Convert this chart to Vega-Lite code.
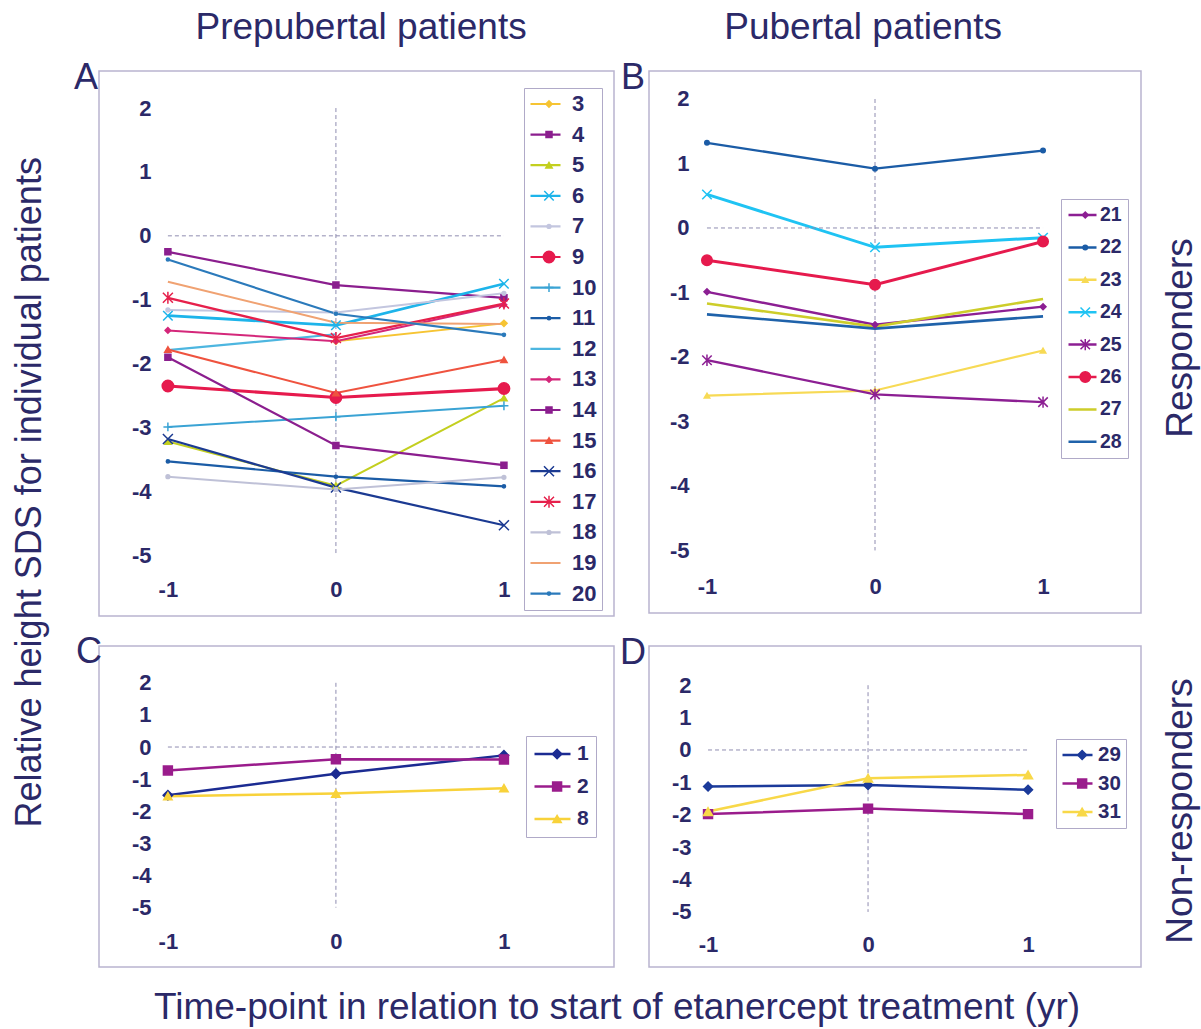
{
  "$schema": "https://vega.github.io/schema/vega-lite/v6.json",
  "background": "white",
  "padding": {"left": 11, "top": 8, "right": 2, "bottom": 2},
  "config": {
    "font": "Liberation Sans",
    "view": {"stroke": "#b9b4cf", "strokeWidth": 1.5},
    "axis": {"domain": false, "ticks": false, "grid": false, "labelPadding": 0, "labelFontSize": 22, "labelFontWeight": "bold", "labelColor": "#2b2968", "labelFont": "Liberation Sans", "labelFlush": false, "labelOverlap": false},
    "text": {"font": "Liberation Sans", "color": "#2b2968", "baseline": "alphabetic", "align": "center"},
    "legend": {"labelFont": "Liberation Sans", "labelFontWeight": "bold", "labelColor": "#2b2968", "title": null}
  },
  "datasets": {
    "A": [
      {"patient": 3, "t": 0, "sds": -1.65}, {"patient": 3, "t": 1, "sds": -1.37},
      {"patient": 4, "t": -1, "sds": -0.25}, {"patient": 4, "t": 0, "sds": -0.77}, {"patient": 4, "t": 1, "sds": -0.97},
      {"patient": 5, "t": -1, "sds": -3.22}, {"patient": 5, "t": 0, "sds": -3.91}, {"patient": 5, "t": 1, "sds": -2.54},
      {"patient": 6, "t": -1, "sds": -1.25}, {"patient": 6, "t": 0, "sds": -1.4}, {"patient": 6, "t": 1, "sds": -0.75},
      {"patient": 7, "t": -1, "sds": -1.16}, {"patient": 7, "t": 0, "sds": -1.2}, {"patient": 7, "t": 1, "sds": -0.9},
      {"patient": 9, "t": -1, "sds": -2.35}, {"patient": 9, "t": 0, "sds": -2.53}, {"patient": 9, "t": 1, "sds": -2.39},
      {"patient": 10, "t": -1, "sds": -2.99}, {"patient": 10, "t": 0, "sds": -2.83}, {"patient": 10, "t": 1, "sds": -2.66},
      {"patient": 11, "t": -1, "sds": -3.53}, {"patient": 11, "t": 0, "sds": -3.77}, {"patient": 11, "t": 1, "sds": -3.92},
      {"patient": 12, "t": -1, "sds": -1.79}, {"patient": 12, "t": 0, "sds": -1.54},
      {"patient": 13, "t": -1, "sds": -1.48}, {"patient": 13, "t": 0, "sds": -1.65}, {"patient": 13, "t": 1, "sds": -1.08},
      {"patient": 14, "t": -1, "sds": -1.9}, {"patient": 14, "t": 0, "sds": -3.28}, {"patient": 14, "t": 1, "sds": -3.59},
      {"patient": 15, "t": -1, "sds": -1.78}, {"patient": 15, "t": 0, "sds": -2.46}, {"patient": 15, "t": 1, "sds": -1.94},
      {"patient": 16, "t": -1, "sds": -3.18}, {"patient": 16, "t": 0, "sds": -3.94}, {"patient": 16, "t": 1, "sds": -4.53},
      {"patient": 17, "t": -1, "sds": -0.97}, {"patient": 17, "t": 0, "sds": -1.6}, {"patient": 17, "t": 1, "sds": -1.06},
      {"patient": 18, "t": -1, "sds": -3.77}, {"patient": 18, "t": 0, "sds": -3.97}, {"patient": 18, "t": 1, "sds": -3.78},
      {"patient": 19, "t": -1, "sds": -0.72}, {"patient": 19, "t": 0, "sds": -1.36}, {"patient": 19, "t": 1, "sds": -1.38},
      {"patient": 20, "t": -1, "sds": -0.37}, {"patient": 20, "t": 0, "sds": -1.22}, {"patient": 20, "t": 1, "sds": -1.55}
    ],
    "B": [
      {"patient": 21, "t": -1, "sds": -0.99}, {"patient": 21, "t": 0, "sds": -1.5}, {"patient": 21, "t": 1, "sds": -1.22},
      {"patient": 22, "t": -1, "sds": 1.32}, {"patient": 22, "t": 0, "sds": 0.92}, {"patient": 22, "t": 1, "sds": 1.2},
      {"patient": 23, "t": -1, "sds": -2.6}, {"patient": 23, "t": 0, "sds": -2.52}, {"patient": 23, "t": 1, "sds": -1.9},
      {"patient": 24, "t": -1, "sds": 0.52}, {"patient": 24, "t": 0, "sds": -0.3}, {"patient": 24, "t": 1, "sds": -0.15},
      {"patient": 25, "t": -1, "sds": -2.05}, {"patient": 25, "t": 0, "sds": -2.58}, {"patient": 25, "t": 1, "sds": -2.7},
      {"patient": 26, "t": -1, "sds": -0.5}, {"patient": 26, "t": 0, "sds": -0.88}, {"patient": 26, "t": 1, "sds": -0.21},
      {"patient": 27, "t": -1, "sds": -1.17}, {"patient": 27, "t": 0, "sds": -1.53}, {"patient": 27, "t": 1, "sds": -1.1},
      {"patient": 28, "t": -1, "sds": -1.34}, {"patient": 28, "t": 0, "sds": -1.56}, {"patient": 28, "t": 1, "sds": -1.37}
    ],
    "C": [
      {"patient": 1, "t": -1, "sds": -1.5}, {"patient": 1, "t": 0, "sds": -0.83}, {"patient": 1, "t": 1, "sds": -0.26},
      {"patient": 2, "t": -1, "sds": -0.73}, {"patient": 2, "t": 0, "sds": -0.38}, {"patient": 2, "t": 1, "sds": -0.39},
      {"patient": 8, "t": -1, "sds": -1.53}, {"patient": 8, "t": 0, "sds": -1.45}, {"patient": 8, "t": 1, "sds": -1.28}
    ],
    "D": [
      {"patient": 29, "t": -1, "sds": -1.13}, {"patient": 29, "t": 0, "sds": -1.08}, {"patient": 29, "t": 1, "sds": -1.23},
      {"patient": 30, "t": -1, "sds": -1.98}, {"patient": 30, "t": 0, "sds": -1.81}, {"patient": 30, "t": 1, "sds": -1.98},
      {"patient": 31, "t": -1, "sds": -1.9}, {"patient": 31, "t": 0, "sds": -0.87}, {"patient": 31, "t": 1, "sds": -0.77}
    ],
    "one": [{"k": 1}]
  },
  "bounds": "flush",
  "spacing": 575,
  "resolve": {
    "scale": {"color": "independent", "fill": "independent", "stroke": "independent", "shape": "independent", "size": "independent", "strokeWidth": "independent"},
    "legend": {"color": "independent", "fill": "independent", "stroke": "independent", "shape": "independent", "size": "independent"}
  },
  "vconcat": [
    {
      "bounds": "flush",
      "spacing": 35,
      "resolve": {
        "scale": {"color": "independent", "fill": "independent", "stroke": "independent", "shape": "independent", "size": "independent", "strokeWidth": "independent"},
        "legend": {"color": "independent", "fill": "independent", "stroke": "independent", "shape": "independent", "size": "independent"}
      },
      "hconcat": [
        {
          "width": 515, "height": 545,
          "layer": [
            {"data": {"name": "A"}, "mark": {"type": "line"},
             "encoding": {
               "x": {"field": "t", "type": "quantitative", "scale": {"domain": [-1.41, 1.655], "nice": false, "zero": false}, "axis": {"values": [-1, 0, 1], "labelExpr": "replace(datum.label, '−', '-')", "offset": -37, "title": null}},
               "y": {"field": "sds", "type": "quantitative", "scale": {"domain": [-5.95, 2.58], "nice": false, "zero": false}, "axis": {"values": [-5, -4, -3, -2, -1, 0, 1, 2], "labelExpr": "replace(datum.label, '−', '-')", "offset": -52, "title": null}},
               "color": {"field": "patient", "type": "nominal",
                 "scale": {"range": ["#f6c433", "#8b1e8e", "#c3cf1f", "#1db4ea", "#c3c6df", "#e61a4d", "#3aa3d4", "#1b5ca6", "#4db6e0", "#d4277a", "#8b1e8e", "#ef533f", "#1b3a92", "#e6204b", "#bfc1d7", "#f0a272", "#2b7abb"]},
                 "legend": {"orient": "none", "legendX": 425, "legendY": 17, "symbolType": "stroke", "symbolSize": 900, "symbolStrokeWidth": 2.2, "clipHeight": 22, "labelFontSize": 22, "labelOffset": 10, "padding": 5, "rowPadding": 8.6, "strokeColor": "#b0aac8"}},
               "strokeWidth": {"field": "patient", "type": "nominal",
                 "scale": {"type": "ordinal", "domain": [20, 19, 18, 17, 16, 15, 14, 13, 12, 11, 10, 9, 7, 6, 5, 4, 3], "range": [2.2, 2, 2, 2.4, 2.2, 2, 2.2, 2, 2.2, 2.2, 2, 3.2, 2, 2.8, 2, 2.2, 2]},
                 "legend": null}
             }},
            {"data": {"name": "one"}, "mark": {"type": "rule", "color": "#8f8cb0", "strokeDash": [4, 3], "strokeWidth": 1},
             "encoding": {"x": {"datum": -1, "type": "quantitative", "scale": {"domain": [-1.41, 1.655], "nice": false, "zero": false}, "axis": {"values": [-1, 0, 1], "labelExpr": "replace(datum.label, '−', '-')", "offset": -37, "title": null}},
                          "x2": {"datum": 1},
                          "y": {"datum": 0, "type": "quantitative", "scale": {"domain": [-5.95, 2.58], "nice": false, "zero": false}, "axis": {"values": [-5, -4, -3, -2, -1, 0, 1, 2], "labelExpr": "replace(datum.label, '−', '-')", "offset": -52, "title": null}}}},
            {"data": {"name": "one"}, "mark": {"type": "rule", "color": "#8f8cb0", "strokeDash": [4, 3], "strokeWidth": 1},
             "encoding": {"x": {"datum": 0, "type": "quantitative", "scale": {"domain": [-1.41, 1.655], "nice": false, "zero": false}, "axis": {"values": [-1, 0, 1], "labelExpr": "replace(datum.label, '−', '-')", "offset": -37, "title": null}},
                          "y": {"datum": 2, "type": "quantitative", "scale": {"domain": [-5.95, 2.58], "nice": false, "zero": false}, "axis": {"values": [-5, -4, -3, -2, -1, 0, 1, 2], "labelExpr": "replace(datum.label, '−', '-')", "offset": -52, "title": null}},
                          "y2": {"datum": -5}}},
            {"data": {"values": [{"label": "A"}]}, "mark": {"type": "text", "fontSize": 36},
             "encoding": {"x": {"datum": -1.487, "type": "quantitative", "scale": {"domain": [-1.41, 1.655], "nice": false, "zero": false}, "axis": {"values": [-1, 0, 1], "labelExpr": "replace(datum.label, '−', '-')", "offset": -37, "title": null}},
                          "y": {"datum": 2.299, "type": "quantitative", "scale": {"domain": [-5.95, 2.58], "nice": false, "zero": false}, "axis": {"values": [-5, -4, -3, -2, -1, 0, 1, 2], "labelExpr": "replace(datum.label, '−', '-')", "offset": -52, "title": null}},
                          "text": {"field": "label"}}},
            {"data": {"values": [{"label": "Prepubertal patients"}]}, "mark": {"type": "text", "fontSize": 37},
             "encoding": {"x": {"datum": 0.15, "type": "quantitative", "scale": {"domain": [-1.41, 1.655], "nice": false, "zero": false}, "axis": {"values": [-1, 0, 1], "labelExpr": "replace(datum.label, '−', '-')", "offset": -37, "title": null}},
                          "y": {"datum": 3.08, "type": "quantitative", "scale": {"domain": [-5.95, 2.58], "nice": false, "zero": false}, "axis": {"values": [-5, -4, -3, -2, -1, 0, 1, 2], "labelExpr": "replace(datum.label, '−', '-')", "offset": -52, "title": null}},
                          "text": {"field": "label"}}},
            {"data": {"values": [{"label": "Relative height SDS for individual patients"}]}, "mark": {"type": "text", "fontSize": 36, "angle": 270},
             "encoding": {"x": {"datum": -1.755, "type": "quantitative", "scale": {"domain": [-1.41, 1.655], "nice": false, "zero": false}, "axis": {"values": [-1, 0, 1], "labelExpr": "replace(datum.label, '−', '-')", "offset": -37, "title": null}},
                          "y": {"datum": -4.014, "type": "quantitative", "scale": {"domain": [-5.95, 2.58], "nice": false, "zero": false}, "axis": {"values": [-5, -4, -3, -2, -1, 0, 1, 2], "labelExpr": "replace(datum.label, '−', '-')", "offset": -52, "title": null}},
                          "text": {"field": "label"}}},
            {"data": {"name": "A"}, "mark": {"type": "point", "filled": true, "strokeWidth": 1.5, "opacity": 1},
             "encoding": {
               "x": {"field": "t", "type": "quantitative", "scale": {"domain": [-1.41, 1.655], "nice": false, "zero": false}, "axis": {"values": [-1, 0, 1], "labelExpr": "replace(datum.label, '−', '-')", "offset": -37, "title": null}},
               "y": {"field": "sds", "type": "quantitative", "scale": {"domain": [-5.95, 2.58], "nice": false, "zero": false}, "axis": {"values": [-5, -4, -3, -2, -1, 0, 1, 2], "labelExpr": "replace(datum.label, '−', '-')", "offset": -52, "title": null}},
               "fill": {"field": "patient", "type": "nominal",
                 "scale": {"domain": [3, 4, 5, 6, 7, 9, 10, 11, 12, 13, 14, 15, 16, 17, 18, 19, 20], "range": ["#f6c433", "#8b1e8e", "#c3cf1f", "#1db4ea", "#c3c6df", "#e61a4d", "#3aa3d4", "#1b5ca6", "#4db6e0", "#d4277a", "#8b1e8e", "#ef533f", "#1b3a92", "#e6204b", "#bfc1d7", "#f0a272", "#2b7abb"]},
                 "legend": {"orient": "none", "legendX": 425, "legendY": 17, "clipHeight": 22, "labelFontSize": 22, "labelOpacity": 0, "labelExpr": "''", "labelOffset": 10, "padding": 5, "rowPadding": 8.6, "symbolOffset": 9, "symbolStrokeWidth": 1.5}},
               "stroke": {"field": "patient", "type": "nominal",
                 "scale": {"domain": [3, 4, 5, 6, 7, 9, 10, 11, 12, 13, 14, 15, 16, 17, 18, 19, 20], "range": ["#f6c433", "#8b1e8e", "#c3cf1f", "#1db4ea", "#c3c6df", "#e61a4d", "#3aa3d4", "#1b5ca6", "#4db6e0", "#d4277a", "#8b1e8e", "#ef533f", "#1b3a92", "#e6204b", "#bfc1d7", "#f0a272", "#2b7abb"]},
                 "legend": {"orient": "none", "legendX": 425, "legendY": 17, "clipHeight": 22, "labelFontSize": 22, "labelOpacity": 0, "labelExpr": "''", "labelOffset": 10, "padding": 5, "rowPadding": 8.6, "symbolOffset": 9, "symbolStrokeWidth": 1.5}},
               "shape": {"field": "patient", "type": "nominal",
                 "scale": {"domain": [3, 4, 5, 6, 7, 9, 10, 11, 12, 13, 14, 15, 16, 17, 18, 19, 20], "range": ["diamond", "square", "triangle-up", "M-1,-1L1,1M-1,1L1,-1", "circle", "circle", "M0,-1V1M-1,0H1", "circle", "circle", "diamond", "square", "triangle-up", "M-1,-1L1,1M-1,1L1,-1", "M-1,-1L1,1M-1,1L1,-1M0,-1.2V1.2", "circle", "circle", "circle"]},
                 "legend": {"orient": "none", "legendX": 425, "legendY": 17, "clipHeight": 22, "labelFontSize": 22, "labelOpacity": 0, "labelExpr": "''", "labelOffset": 10, "padding": 5, "rowPadding": 8.6, "symbolOffset": 9, "symbolStrokeWidth": 1.5}},
               "size": {"field": "patient", "type": "nominal",
                 "scale": {"type": "ordinal", "domain": [3, 4, 5, 6, 7, 9, 10, 11, 12, 13, 14, 15, 16, 17, 18, 19, 20], "range": [40, 36, 40, 90, 14, 130, 80, 10, 0, 30, 36, 40, 100, 100, 14, 0, 10]},
                 "legend": {"orient": "none", "legendX": 425, "legendY": 17, "clipHeight": 22, "labelFontSize": 22, "labelOpacity": 0, "labelExpr": "''", "labelOffset": 10, "padding": 5, "rowPadding": 8.6, "symbolOffset": 9, "symbolStrokeWidth": 1.5}}
             }}
          ]
        },
        {
          "width": 492, "height": 542,
          "layer": [
            {"data": {"name": "B"}, "mark": {"type": "line"},
             "encoding": {
               "x": {"field": "t", "type": "quantitative", "scale": {"domain": [-1.345, 1.583], "nice": false, "zero": false}, "axis": {"values": [-1, 0, 1], "labelExpr": "replace(datum.label, '−', '-')", "offset": -37, "title": null}},
               "y": {"field": "sds", "type": "quantitative", "scale": {"domain": [-5.97, 2.434], "nice": false, "zero": false}, "axis": {"values": [-5, -4, -3, -2, -1, 0, 1, 2], "labelExpr": "replace(datum.label, '−', '-')", "offset": -40, "title": null}},
               "color": {"field": "patient", "type": "nominal",
                 "scale": {"range": ["#8c1f93", "#1b5ca6", "#f7da55", "#1fc3f3", "#8c1f93", "#e61a4d", "#cdcd2a", "#1f62aa"]},
                 "legend": {"orient": "none", "legendX": 412, "legendY": 128, "symbolType": "stroke", "symbolSize": 784, "symbolStrokeWidth": 2.5, "clipHeight": 20, "labelFontSize": 19.5, "labelOffset": 2, "padding": 6, "rowPadding": 12.4, "strokeColor": "#b0aac8"}},
               "strokeWidth": {"field": "patient", "type": "nominal",
                 "scale": {"type": "ordinal", "domain": [28, 27, 26, 25, 24, 23, 22, 21], "range": [2.6, 2.6, 3, 2.4, 3, 2.2, 2.4, 2.4]},
                 "legend": null}
             }},
            {"data": {"name": "one"}, "mark": {"type": "rule", "color": "#8f8cb0", "strokeDash": [4, 3], "strokeWidth": 1},
             "encoding": {"x": {"datum": -1, "type": "quantitative", "scale": {"domain": [-1.345, 1.583], "nice": false, "zero": false}, "axis": {"values": [-1, 0, 1], "labelExpr": "replace(datum.label, '−', '-')", "offset": -37, "title": null}},
                          "x2": {"datum": 1},
                          "y": {"datum": 0, "type": "quantitative", "scale": {"domain": [-5.97, 2.434], "nice": false, "zero": false}, "axis": {"values": [-5, -4, -3, -2, -1, 0, 1, 2], "labelExpr": "replace(datum.label, '−', '-')", "offset": -40, "title": null}}}},
            {"data": {"name": "one"}, "mark": {"type": "rule", "color": "#8f8cb0", "strokeDash": [4, 3], "strokeWidth": 1},
             "encoding": {"x": {"datum": 0, "type": "quantitative", "scale": {"domain": [-1.345, 1.583], "nice": false, "zero": false}, "axis": {"values": [-1, 0, 1], "labelExpr": "replace(datum.label, '−', '-')", "offset": -37, "title": null}},
                          "y": {"datum": 2, "type": "quantitative", "scale": {"domain": [-5.97, 2.434], "nice": false, "zero": false}, "axis": {"values": [-5, -4, -3, -2, -1, 0, 1, 2], "labelExpr": "replace(datum.label, '−', '-')", "offset": -40, "title": null}},
                          "y2": {"datum": -5}}},
            {"data": {"values": [{"label": "B"}]}, "mark": {"type": "text", "fontSize": 36},
             "encoding": {"x": {"datum": -1.44, "type": "quantitative", "scale": {"domain": [-1.345, 1.583], "nice": false, "zero": false}, "axis": {"values": [-1, 0, 1], "labelExpr": "replace(datum.label, '−', '-')", "offset": -37, "title": null}},
                          "y": {"datum": 2.155, "type": "quantitative", "scale": {"domain": [-5.97, 2.434], "nice": false, "zero": false}, "axis": {"values": [-5, -4, -3, -2, -1, 0, 1, 2], "labelExpr": "replace(datum.label, '−', '-')", "offset": -40, "title": null}},
                          "text": {"field": "label"}}},
            {"data": {"values": [{"label": "Pubertal patients"}]}, "mark": {"type": "text", "fontSize": 37},
             "encoding": {"x": {"datum": -0.071, "type": "quantitative", "scale": {"domain": [-1.345, 1.583], "nice": false, "zero": false}, "axis": {"values": [-1, 0, 1], "labelExpr": "replace(datum.label, '−', '-')", "offset": -37, "title": null}},
                          "y": {"datum": 2.93, "type": "quantitative", "scale": {"domain": [-5.97, 2.434], "nice": false, "zero": false}, "axis": {"values": [-5, -4, -3, -2, -1, 0, 1, 2], "labelExpr": "replace(datum.label, '−', '-')", "offset": -40, "title": null}},
                          "text": {"field": "label"}}},
            {"data": {"values": [{"label": "Responders"}]}, "mark": {"type": "text", "fontSize": 37, "angle": 270},
             "encoding": {"x": {"datum": 1.887, "type": "quantitative", "scale": {"domain": [-1.345, 1.583], "nice": false, "zero": false}, "axis": {"values": [-1, 0, 1], "labelExpr": "replace(datum.label, '−', '-')", "offset": -37, "title": null}},
                          "y": {"datum": -1.706, "type": "quantitative", "scale": {"domain": [-5.97, 2.434], "nice": false, "zero": false}, "axis": {"values": [-5, -4, -3, -2, -1, 0, 1, 2], "labelExpr": "replace(datum.label, '−', '-')", "offset": -40, "title": null}},
                          "text": {"field": "label"}}},
            {"data": {"name": "B"}, "mark": {"type": "point", "filled": true, "strokeWidth": 1.5, "opacity": 1},
             "encoding": {
               "x": {"field": "t", "type": "quantitative", "scale": {"domain": [-1.345, 1.583], "nice": false, "zero": false}, "axis": {"values": [-1, 0, 1], "labelExpr": "replace(datum.label, '−', '-')", "offset": -37, "title": null}},
               "y": {"field": "sds", "type": "quantitative", "scale": {"domain": [-5.97, 2.434], "nice": false, "zero": false}, "axis": {"values": [-5, -4, -3, -2, -1, 0, 1, 2], "labelExpr": "replace(datum.label, '−', '-')", "offset": -40, "title": null}},
               "fill": {"field": "patient", "type": "nominal",
                 "scale": {"domain": [21, 22, 23, 24, 25, 26, 27, 28], "range": ["#8c1f93", "#1b5ca6", "#f7da55", "#1fc3f3", "#8c1f93", "#e61a4d", "#cdcd2a", "#1f62aa"]},
                 "legend": {"orient": "none", "legendX": 412, "legendY": 128, "clipHeight": 20, "labelFontSize": 19.5, "labelOpacity": 0, "labelExpr": "''", "labelOffset": 2, "padding": 6, "rowPadding": 12.4, "symbolOffset": 8.5, "symbolStrokeWidth": 1.5}},
               "stroke": {"field": "patient", "type": "nominal",
                 "scale": {"domain": [21, 22, 23, 24, 25, 26, 27, 28], "range": ["#8c1f93", "#1b5ca6", "#f7da55", "#1fc3f3", "#8c1f93", "#e61a4d", "#cdcd2a", "#1f62aa"]},
                 "legend": {"orient": "none", "legendX": 412, "legendY": 128, "clipHeight": 20, "labelFontSize": 19.5, "labelOpacity": 0, "labelExpr": "''", "labelOffset": 2, "padding": 6, "rowPadding": 12.4, "symbolOffset": 8.5, "symbolStrokeWidth": 1.5}},
               "shape": {"field": "patient", "type": "nominal",
                 "scale": {"domain": [21, 22, 23, 24, 25, 26, 27, 28], "range": ["diamond", "circle", "triangle-up", "M-1,-1L1,1M-1,1L1,-1", "M-1,-1L1,1M-1,1L1,-1M0,-1.2V1.2", "circle", "circle", "circle"]},
                 "legend": {"orient": "none", "legendX": 412, "legendY": 128, "clipHeight": 20, "labelFontSize": 19.5, "labelOpacity": 0, "labelExpr": "''", "labelOffset": 2, "padding": 6, "rowPadding": 12.4, "symbolOffset": 8.5, "symbolStrokeWidth": 1.5}},
               "size": {"field": "patient", "type": "nominal",
                 "scale": {"type": "ordinal", "domain": [21, 22, 23, 24, 25, 26, 27, 28], "range": [35, 20, 30, 90, 90, 110, 0, 0]},
                 "legend": {"orient": "none", "legendX": 412, "legendY": 128, "clipHeight": 20, "labelFontSize": 19.5, "labelOpacity": 0, "labelExpr": "''", "labelOffset": 2, "padding": 6, "rowPadding": 12.4, "symbolOffset": 8.5, "symbolStrokeWidth": 1.5}}
             }}
          ]
        }
      ]
    },
    {
      "bounds": "flush",
      "spacing": 35,
      "resolve": {
        "scale": {"color": "independent", "fill": "independent", "stroke": "independent", "shape": "independent", "size": "independent", "strokeWidth": "independent"},
        "legend": {"color": "independent", "fill": "independent", "stroke": "independent", "shape": "independent", "size": "independent"}
      },
      "hconcat": [
        {
          "width": 515, "height": 321,
          "layer": [
            {"data": {"name": "C"}, "mark": {"type": "line", "strokeWidth": 2.5},
             "encoding": {
               "x": {"field": "t", "type": "quantitative", "scale": {"domain": [-1.41, 1.655], "nice": false, "zero": false}, "axis": {"values": [-1, 0, 1], "labelExpr": "replace(datum.label, '−', '-')", "offset": -36, "title": null}},
               "y": {"field": "sds", "type": "quantitative", "scale": {"domain": [-6.85, 3.146], "nice": false, "zero": false}, "axis": {"values": [-5, -4, -3, -2, -1, 0, 1, 2], "labelExpr": "replace(datum.label, '−', '-')", "offset": -52, "title": null}},
               "color": {"field": "patient", "type": "nominal",
                 "scale": {"range": ["#1b2b92", "#9a1c8c", "#f8d23a"]},
                 "legend": {"orient": "none", "legendX": 427, "legendY": 90, "symbolType": "stroke", "symbolSize": 1296, "symbolStrokeWidth": 2.5, "clipHeight": 22, "labelFontSize": 21, "labelOffset": 5, "padding": 7, "rowPadding": 10.5, "strokeColor": "#b0aac8"}}
             }},
            {"data": {"name": "one"}, "mark": {"type": "rule", "color": "#8f8cb0", "strokeDash": [4, 3], "strokeWidth": 1},
             "encoding": {"x": {"datum": -1, "type": "quantitative", "scale": {"domain": [-1.41, 1.655], "nice": false, "zero": false}, "axis": {"values": [-1, 0, 1], "labelExpr": "replace(datum.label, '−', '-')", "offset": -36, "title": null}},
                          "x2": {"datum": 1},
                          "y": {"datum": 0, "type": "quantitative", "scale": {"domain": [-6.85, 3.146], "nice": false, "zero": false}, "axis": {"values": [-5, -4, -3, -2, -1, 0, 1, 2], "labelExpr": "replace(datum.label, '−', '-')", "offset": -52, "title": null}}}},
            {"data": {"name": "one"}, "mark": {"type": "rule", "color": "#8f8cb0", "strokeDash": [4, 3], "strokeWidth": 1},
             "encoding": {"x": {"datum": 0, "type": "quantitative", "scale": {"domain": [-1.41, 1.655], "nice": false, "zero": false}, "axis": {"values": [-1, 0, 1], "labelExpr": "replace(datum.label, '−', '-')", "offset": -36, "title": null}},
                          "y": {"datum": 2, "type": "quantitative", "scale": {"domain": [-6.85, 3.146], "nice": false, "zero": false}, "axis": {"values": [-5, -4, -3, -2, -1, 0, 1, 2], "labelExpr": "replace(datum.label, '−', '-')", "offset": -52, "title": null}},
                          "y2": {"datum": -5}}},
            {"data": {"values": [{"label": "C"}]}, "mark": {"type": "text", "fontSize": 36},
             "encoding": {"x": {"datum": -1.47, "type": "quantitative", "scale": {"domain": [-1.41, 1.655], "nice": false, "zero": false}, "axis": {"values": [-1, 0, 1], "labelExpr": "replace(datum.label, '−', '-')", "offset": -36, "title": null}},
                          "y": {"datum": 2.616, "type": "quantitative", "scale": {"domain": [-6.85, 3.146], "nice": false, "zero": false}, "axis": {"values": [-5, -4, -3, -2, -1, 0, 1, 2], "labelExpr": "replace(datum.label, '−', '-')", "offset": -52, "title": null}},
                          "text": {"field": "label"}}},
            {"data": {"values": [{"label": "Time-point in relation to start of etanercept treatment (yr)"}]}, "mark": {"type": "text", "fontSize": 37},
             "encoding": {"x": {"datum": 1.673, "type": "quantitative", "scale": {"domain": [-1.41, 1.655], "nice": false, "zero": false}, "axis": {"values": [-1, 0, 1], "labelExpr": "replace(datum.label, '−', '-')", "offset": -36, "title": null}},
                          "y": {"datum": -8.474, "type": "quantitative", "scale": {"domain": [-6.85, 3.146], "nice": false, "zero": false}, "axis": {"values": [-5, -4, -3, -2, -1, 0, 1, 2], "labelExpr": "replace(datum.label, '−', '-')", "offset": -52, "title": null}},
                          "text": {"field": "label"}}},
            {"data": {"name": "C"}, "mark": {"type": "point", "filled": true, "strokeWidth": 1.5, "opacity": 1},
             "encoding": {
               "x": {"field": "t", "type": "quantitative", "scale": {"domain": [-1.41, 1.655], "nice": false, "zero": false}, "axis": {"values": [-1, 0, 1], "labelExpr": "replace(datum.label, '−', '-')", "offset": -36, "title": null}},
               "y": {"field": "sds", "type": "quantitative", "scale": {"domain": [-6.85, 3.146], "nice": false, "zero": false}, "axis": {"values": [-5, -4, -3, -2, -1, 0, 1, 2], "labelExpr": "replace(datum.label, '−', '-')", "offset": -52, "title": null}},
               "fill": {"field": "patient", "type": "nominal",
                 "scale": {"domain": [1, 2, 8], "range": ["#1b2b92", "#9a1c8c", "#f8d23a"]},
                 "legend": {"orient": "none", "legendX": 427, "legendY": 90, "clipHeight": 22, "labelFontSize": 21, "labelOpacity": 0, "labelExpr": "''", "labelOffset": 5, "padding": 7, "rowPadding": 10.5, "symbolOffset": 13.6, "symbolStrokeWidth": 1.5}},
               "stroke": {"field": "patient", "type": "nominal",
                 "scale": {"domain": [1, 2, 8], "range": ["#1b2b92", "#9a1c8c", "#f8d23a"]},
                 "legend": {"orient": "none", "legendX": 427, "legendY": 90, "clipHeight": 22, "labelFontSize": 21, "labelOpacity": 0, "labelExpr": "''", "labelOffset": 5, "padding": 7, "rowPadding": 10.5, "symbolOffset": 13.6, "symbolStrokeWidth": 1.5}},
               "shape": {"field": "patient", "type": "nominal",
                 "scale": {"domain": [1, 2, 8], "range": ["diamond", "square", "triangle-up"]},
                 "legend": {"orient": "none", "legendX": 427, "legendY": 90, "clipHeight": 22, "labelFontSize": 21, "labelOpacity": 0, "labelExpr": "''", "labelOffset": 5, "padding": 7, "rowPadding": 10.5, "symbolOffset": 13.6, "symbolStrokeWidth": 1.5}},
               "size": {"field": "patient", "type": "nominal",
                 "scale": {"type": "ordinal", "domain": [1, 2, 8], "range": [90, 80, 70]},
                 "legend": {"orient": "none", "legendX": 427, "legendY": 90, "clipHeight": 22, "labelFontSize": 21, "labelOpacity": 0, "labelExpr": "''", "labelOffset": 5, "padding": 7, "rowPadding": 10.5, "symbolOffset": 13.6, "symbolStrokeWidth": 1.5}}
             }}
          ]
        },
        {
          "width": 492, "height": 321,
          "layer": [
            {"data": {"name": "D"}, "mark": {"type": "line", "strokeWidth": 2.5},
             "encoding": {
               "x": {"field": "t", "type": "quantitative", "scale": {"domain": [-1.369, 1.706], "nice": false, "zero": false}, "axis": {"values": [-1, 0, 1], "labelExpr": "replace(datum.label, '−', '-')", "offset": -33, "title": null}},
               "y": {"field": "sds", "type": "quantitative", "scale": {"domain": [-6.7, 3.21], "nice": false, "zero": false}, "axis": {"values": [-5, -4, -3, -2, -1, 0, 1, 2], "labelExpr": "replace(datum.label, '−', '-')", "offset": -42, "title": null}},
               "color": {"field": "patient", "type": "nominal",
                 "scale": {"range": ["#1b3a9a", "#9a1c8c", "#f8d848"]},
                 "legend": {"orient": "none", "legendX": 407, "legendY": 93, "symbolType": "stroke", "symbolSize": 900, "symbolStrokeWidth": 2.5, "clipHeight": 22, "labelFontSize": 20.5, "labelOffset": 4, "padding": 5, "rowPadding": 6.5, "strokeColor": "#b0aac8"}}
             }},
            {"data": {"name": "one"}, "mark": {"type": "rule", "color": "#8f8cb0", "strokeDash": [4, 3], "strokeWidth": 1},
             "encoding": {"x": {"datum": -1, "type": "quantitative", "scale": {"domain": [-1.369, 1.706], "nice": false, "zero": false}, "axis": {"values": [-1, 0, 1], "labelExpr": "replace(datum.label, '−', '-')", "offset": -33, "title": null}},
                          "x2": {"datum": 1},
                          "y": {"datum": 0, "type": "quantitative", "scale": {"domain": [-6.7, 3.21], "nice": false, "zero": false}, "axis": {"values": [-5, -4, -3, -2, -1, 0, 1, 2], "labelExpr": "replace(datum.label, '−', '-')", "offset": -42, "title": null}}}},
            {"data": {"name": "one"}, "mark": {"type": "rule", "color": "#8f8cb0", "strokeDash": [4, 3], "strokeWidth": 1},
             "encoding": {"x": {"datum": 0, "type": "quantitative", "scale": {"domain": [-1.369, 1.706], "nice": false, "zero": false}, "axis": {"values": [-1, 0, 1], "labelExpr": "replace(datum.label, '−', '-')", "offset": -33, "title": null}},
                          "y": {"datum": 2, "type": "quantitative", "scale": {"domain": [-6.7, 3.21], "nice": false, "zero": false}, "axis": {"values": [-5, -4, -3, -2, -1, 0, 1, 2], "labelExpr": "replace(datum.label, '−', '-')", "offset": -42, "title": null}},
                          "y2": {"datum": -5}}},
            {"data": {"values": [{"label": "D"}]}, "mark": {"type": "text", "fontSize": 36},
             "encoding": {"x": {"datum": -1.469, "type": "quantitative", "scale": {"domain": [-1.369, 1.706], "nice": false, "zero": false}, "axis": {"values": [-1, 0, 1], "labelExpr": "replace(datum.label, '−', '-')", "offset": -33, "title": null}},
                          "y": {"datum": 2.654, "type": "quantitative", "scale": {"domain": [-6.7, 3.21], "nice": false, "zero": false}, "axis": {"values": [-5, -4, -3, -2, -1, 0, 1, 2], "labelExpr": "replace(datum.label, '−', '-')", "offset": -42, "title": null}},
                          "text": {"field": "label"}}},
            {"data": {"values": [{"label": "Non-responders"}]}, "mark": {"type": "text", "fontSize": 37, "angle": 270},
             "encoding": {"x": {"datum": 2.025, "type": "quantitative", "scale": {"domain": [-1.369, 1.706], "nice": false, "zero": false}, "axis": {"values": [-1, 0, 1], "labelExpr": "replace(datum.label, '−', '-')", "offset": -33, "title": null}},
                          "y": {"datum": -1.883, "type": "quantitative", "scale": {"domain": [-6.7, 3.21], "nice": false, "zero": false}, "axis": {"values": [-5, -4, -3, -2, -1, 0, 1, 2], "labelExpr": "replace(datum.label, '−', '-')", "offset": -42, "title": null}},
                          "text": {"field": "label"}}},
            {"data": {"name": "D"}, "mark": {"type": "point", "filled": true, "strokeWidth": 1.5, "opacity": 1},
             "encoding": {
               "x": {"field": "t", "type": "quantitative", "scale": {"domain": [-1.369, 1.706], "nice": false, "zero": false}, "axis": {"values": [-1, 0, 1], "labelExpr": "replace(datum.label, '−', '-')", "offset": -33, "title": null}},
               "y": {"field": "sds", "type": "quantitative", "scale": {"domain": [-6.7, 3.21], "nice": false, "zero": false}, "axis": {"values": [-5, -4, -3, -2, -1, 0, 1, 2], "labelExpr": "replace(datum.label, '−', '-')", "offset": -42, "title": null}},
               "fill": {"field": "patient", "type": "nominal",
                 "scale": {"domain": [29, 30, 31], "range": ["#1b3a9a", "#9a1c8c", "#f8d848"]},
                 "legend": {"orient": "none", "legendX": 407, "legendY": 93, "clipHeight": 22, "labelFontSize": 20.5, "labelOpacity": 0, "labelExpr": "''", "labelOffset": 4, "padding": 5, "rowPadding": 6.5, "symbolOffset": 10.9, "symbolStrokeWidth": 1.5}},
               "stroke": {"field": "patient", "type": "nominal",
                 "scale": {"domain": [29, 30, 31], "range": ["#1b3a9a", "#9a1c8c", "#f8d848"]},
                 "legend": {"orient": "none", "legendX": 407, "legendY": 93, "clipHeight": 22, "labelFontSize": 20.5, "labelOpacity": 0, "labelExpr": "''", "labelOffset": 4, "padding": 5, "rowPadding": 6.5, "symbolOffset": 10.9, "symbolStrokeWidth": 1.5}},
               "shape": {"field": "patient", "type": "nominal",
                 "scale": {"domain": [29, 30, 31], "range": ["diamond", "square", "triangle-up"]},
                 "legend": {"orient": "none", "legendX": 407, "legendY": 93, "clipHeight": 22, "labelFontSize": 20.5, "labelOpacity": 0, "labelExpr": "''", "labelOffset": 4, "padding": 5, "rowPadding": 6.5, "symbolOffset": 10.9, "symbolStrokeWidth": 1.5}},
               "size": {"field": "patient", "type": "nominal",
                 "scale": {"type": "ordinal", "domain": [29, 30, 31], "range": [80, 80, 80]},
                 "legend": {"orient": "none", "legendX": 407, "legendY": 93, "clipHeight": 22, "labelFontSize": 20.5, "labelOpacity": 0, "labelExpr": "''", "labelOffset": 4, "padding": 5, "rowPadding": 6.5, "symbolOffset": 10.9, "symbolStrokeWidth": 1.5}}
             }}
          ]
        }
      ]
    }
  ]
}
